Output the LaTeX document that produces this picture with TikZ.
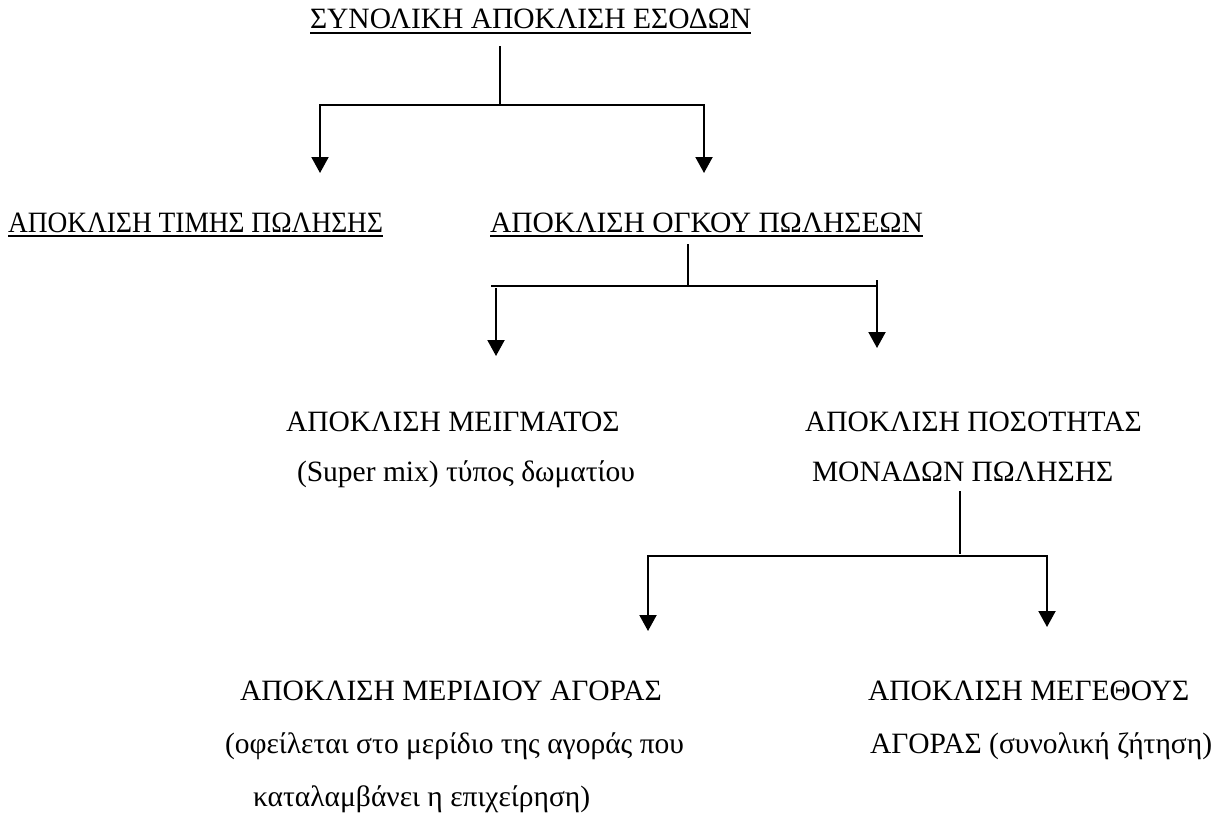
\documentclass[tikz,border=0pt]{standalone}
\usepackage{fontspec}
\usepackage{graphicx}
\setmainfont{Liberation Serif}
\usetikzlibrary{arrows.meta}
\tikzset{
  txt/.style={anchor=base west, inner sep=0pt, outer sep=0pt, font=\fontsize{29.5}{35}\selectfont},
  conn/.style={line width=2pt, line cap=rect},
  arr/.style={conn, -{Triangle[width=17pt,length=16pt]}},
  uline/.style={line width=2.6pt}
}
\begin{document}
\begin{tikzpicture}[x=1pt,y=-1pt]
\useasboundingbox (0,0) rectangle (1223,839);
% texts
\node[txt] (t0) at (310,28) {ΣΥΝΟΛΙΚΗ ΑΠΟΚΛΙΣΗ ΕΣΟΔΩΝ};
\node[txt] (t1) at (8,232) {\resizebox{375pt}{\height}{ΑΠΟΚΛΙΣΗ ΤΙΜΗΣ ΠΩΛΗΣΗΣ}};
\node[txt] (t2) at (490,232) {\resizebox{433pt}{\height}{ΑΠΟΚΛΙΣΗ ΟΓΚΟΥ ΠΩΛΗΣΕΩΝ}};
\node[txt] (t3) at (286,431) {ΑΠΟΚΛΙΣΗ ΜΕΙΓΜΑΤΟΣ};
\node[txt] (t3b) at (297,481) {(Super mix) τύπος δωματίου};
\node[txt] (t4) at (805,431) {ΑΠΟΚΛΙΣΗ ΠΟΣΟΤΗΤΑΣ};
\node[txt] (t4b) at (812,481) {ΜΟΝΑΔΩΝ ΠΩΛΗΣΗΣ};
\node[txt] (t5) at (240,700) {ΑΠΟΚΛΙΣΗ ΜΕΡΙΔΙΟΥ ΑΓΟΡΑΣ};
\node[txt] (t5b) at (225,753) {(οφείλεται στο μερίδιο της αγοράς που};
\node[txt] (t5c) at (253,806) {καταλαμβάνει η επιχείρηση)};
\node[txt] (t6) at (868,700) {ΑΠΟΚΛΙΣΗ ΜΕΓΕΘΟΥΣ};
\node[txt] (t6b) at (870,753) {ΑΓΟΡΑΣ (συνολική ζήτηση)};
% underlines
\draw[uline] ([yshift=-5pt]t0.base west) -- ([yshift=-5pt]t0.base east);
\draw[uline] ([yshift=-4pt]t1.base west) -- ([yshift=-4pt]t1.base east);
\draw[uline] ([yshift=-4pt]t2.base west) -- ([yshift=-4pt]t2.base east);
% junction coordinates
\coordinate (a0) at (500,47);
\coordinate (a1) at (500,105);
\coordinate (aL) at (320,105);
\coordinate (aR) at (704,105);
\coordinate (aLe) at (320,173);
\coordinate (aRe) at (704,173);
\coordinate (b0) at (688,245);
\coordinate (b1) at (688,285);
\coordinate (bL) at (492,286);
\coordinate (bR) at (877,286);
\coordinate (bRt) at (877,281);
\coordinate (bLs) at (496,289);
\coordinate (bLe) at (496,356);
\coordinate (bRe) at (877,348);
\coordinate (c0) at (960,492);
\coordinate (c1) at (960,553);
\coordinate (cL) at (648,556);
\coordinate (cR) at (1047,556);
\coordinate (cLe) at (648,631);
\coordinate (cRe) at (1047,627);
% connectors
\draw[conn] (a0) -- (a1);
\draw[conn] (aL) -- (aR);
\draw[arr] (aL) -- (aLe);
\draw[arr] (aR) -- (aRe);
\draw[conn] (b0) -- (b1);
\draw[conn] (bL) -- (bR);
\draw[arr] (bRt) -- (bRe);
\draw[arr] (bLs) -- (bLe);
\draw[conn] (c0) -- (c1);
\draw[conn] (cL) -- (cR);
\draw[arr] (cL) -- (cLe);
\draw[arr] (cR) -- (cRe);
\end{tikzpicture}
\end{document}
